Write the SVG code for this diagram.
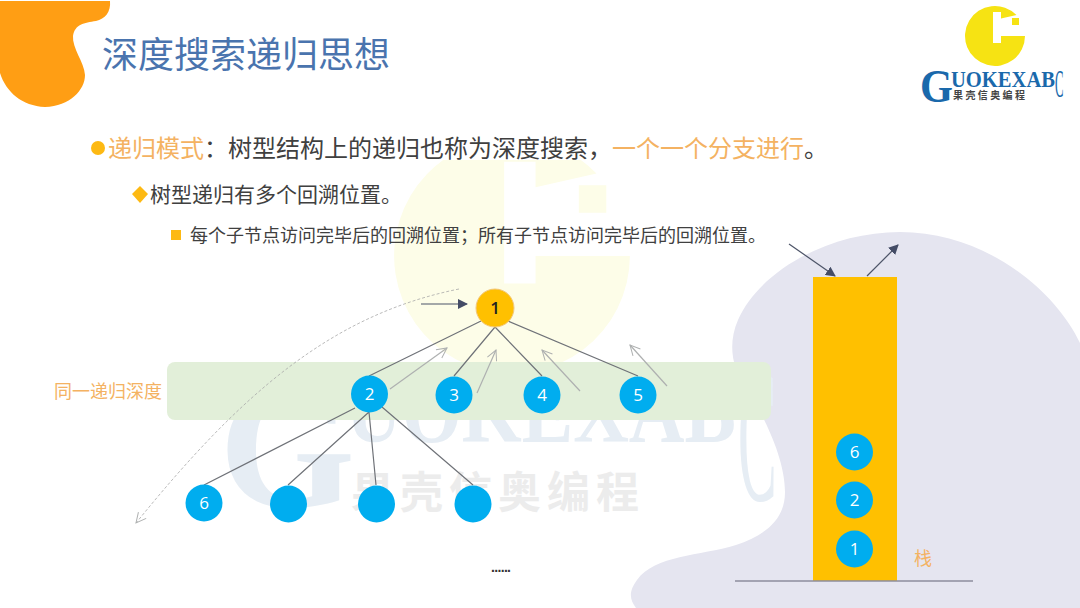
<svg xmlns="http://www.w3.org/2000/svg" width="1080" height="608" viewBox="0 0 1080 608">
<style>
text{font-family:"Noto Sans CJK SC","Noto Sans",sans-serif}
.n{font-family:"Open Sans","Noto Sans",sans-serif;font-size:17px;fill:#fff;text-anchor:middle}
.blue{fill:#00adef}
.o{fill:#f4b262}
.d{fill:#404040}
.edge{stroke:#6f7278;stroke-width:1.2;fill:none}
.back{stroke:#aeb0b0;stroke-width:1.2;fill:none;marker-end:url(#open)}
.dark{stroke:#4d5468;stroke-width:1.2;fill:none;marker-end:url(#solid)}
.wm{font-family:"Liberation Serif",serif;font-weight:700;fill:#e6edf4}
.lg{font-family:"Liberation Serif",serif;font-weight:700;fill:#1a69ab}
</style>
<defs>
<marker id="solid" viewBox="0 0 10 10" refX="9" refY="5" markerWidth="10" markerHeight="10" markerUnits="userSpaceOnUse" orient="auto"><path d="M0 0L10 5L0 10Z" fill="#444c66"/></marker>
<marker id="open" viewBox="0 0 12 12" refX="11" refY="6" markerWidth="12" markerHeight="12" markerUnits="userSpaceOnUse" orient="auto"><path d="M1 1L11 6L1 11" fill="none" stroke="#aeb0b0"/></marker>
<path id="cmark" d="M1016.500 15A30 30 0 1 0 1025 36H1001V43H993V12H1001V18.500ZM1012 18h7v7h-7z"/>
<clipPath id="wmclip"><rect x="380" y="160" width="270" height="220"/></clipPath>
</defs>
<rect width="1080" height="608" fill="#fff"/>
<path id="blob" fill="#e5e5f0" d="M1080 343C1055 290 985 232 900 232C830 232 760 270 738 320C727 345 733 370 745 385C760 410 785 455 785 492C785 520 765 535 736 545C700 556 655 555 637 580C628 592 630 600 636 608H1080Z"/>
<g id="watermark">
<g clip-path="url(#wmclip)"><use href="#cmark" transform="translate(512 256) scale(3.93) translate(-995 -36)" fill="#fdfde8"/></g>
<text class="wm" x="219" y="506" font-size="175">G</text>
<text class="wm" x="346" y="442" font-size="90" textLength="390" lengthAdjust="spacingAndGlyphs">UOKEXAB</text>
<text class="wm" style="font-weight:400" transform="translate(738 500) scale(.58 1.9)" font-size="100">C</text>
<text x="351" y="508" font-size="43" font-weight="700" fill="#ececec" letter-spacing="6">果壳信奥编程</text>
</g>
<path id="corner" fill="#ff9e14" d="M0 1H110C111 12 105 19 96 21C84 23 75 24 73 36C72 48 84 62 85 75C85 90 70 106 45 107C22 106 6 92 0 73Z"/>
<text x="102" y="68" font-size="36" fill="#4a74ae">深度搜索递归思想</text>
<g id="logo">
<use href="#cmark" fill="#f6e313"/>
<text class="lg" x="920" y="102" font-size="46" textLength="33" lengthAdjust="spacingAndGlyphs">G</text>
<text class="lg" x="951" y="87" font-size="24" textLength="104" lengthAdjust="spacingAndGlyphs">UOKEXAB</text>
<text class="lg" style="font-weight:400" transform="translate(1055 97) scale(.53 1.7)" font-size="24">C</text>
<text x="953" y="99" font-size="10" font-weight="700" fill="#444" letter-spacing="2.4">果壳信奥编程</text>
</g>
<g id="bullets">
<circle cx="98" cy="148" r="7" fill="#fdb913"/>
<text x="108" y="157" font-size="24"><tspan class="o">递归模式</tspan><tspan class="d">：树型结构上的递归也称为深度搜索，</tspan><tspan class="o">一个一个分支进行</tspan><tspan class="d">。</tspan></text>
<path d="M140 186L148 194L140 203L132 194Z" fill="#fdb913"/>
<text x="150" y="202" font-size="21" class="d">树型递归有多个回溯位置。</text>
<rect x="171" y="230" width="10" height="10" fill="#fdb913"/>
<text x="190" y="242" font-size="18" class="d">每个子节点访问完毕后的回溯位置；所有子节点访问完毕后的回溯位置。</text>
</g>
<rect id="band" x="167" y="362" width="604" height="58" rx="8" fill="#e2efd9"/>
<text x="54" y="398" font-size="18" class="o">同一递归深度</text>
<g id="connectors">
<path class="edge" d="M481 321L369 376M495 327L454 376M495 327L542 376M508 321L638 376"/>
<path class="edge" d="M355 408L204 485M369 412L288 485M369 412L376 485M382 407L473 485"/>
<path class="back" d="M390 389L447 348"/>
<path class="back" d="M477 393L496 350"/>
<path class="back" d="M580 391L542 350"/>
<path class="back" d="M667 386L630 345"/>
<path class="dark" d="M421 304L467 304"/>
<path class="dark" d="M789 244L835 276"/>
<path class="dark" d="M867 276L898 245"/>
<path d="M459 289C330 315 240 395 136 523" fill="none" stroke="#a8a8a8" stroke-width=".8" stroke-dasharray="3 2" marker-end="url(#open)"/>
</g>
<g id="stack">
<rect x="813" y="277" width="84" height="304" fill="#ffc000"/>
<path d="M735 581H973" stroke="#8d8d9e" stroke-width="1.5"/>
<text x="914" y="565" font-size="18" class="o">栈</text>
</g>
<g id="n1"><circle cx="495" cy="308" r="19" fill="#ffc000" stroke="#f2c77d"/><text x="495" y="314" class="n" style="fill:#222;font-weight:600">1</text></g>
<g id="n2"><circle cx="369.500" cy="394" r="18.500" class="blue"/><text x="369.500" y="400" class="n">2</text></g>
<g id="n3"><circle cx="454" cy="395" r="18.500" class="blue"/><text x="454" y="401" class="n">3</text></g>
<g id="n4"><circle cx="542" cy="395" r="18.500" class="blue"/><text x="542" y="401" class="n">4</text></g>
<g id="n5"><circle cx="638" cy="395" r="18.500" class="blue"/><text x="638" y="401" class="n">5</text></g>
<g id="n6"><circle cx="204" cy="503" r="18.500" class="blue"/><text x="204" y="509" class="n">6</text></g>
<g id="n7"><circle cx="288.500" cy="504" r="18.500" class="blue"/></g>
<g id="n8"><circle cx="376.500" cy="504" r="18.500" class="blue"/></g>
<g id="n9"><circle cx="473" cy="504" r="18.500" class="blue"/></g>
<g id="s6"><circle cx="854.500" cy="452" r="18.500" class="blue"/><text x="854.500" y="458" class="n">6</text></g>
<g id="s2"><circle cx="854.500" cy="500" r="18.500" class="blue"/><text x="854.500" y="506" class="n">2</text></g>
<g id="s1"><circle cx="854.500" cy="549" r="18.500" class="blue"/><text x="854.500" y="555" class="n">1</text></g>
<text x="491" y="572" font-size="14" font-weight="700" fill="#333" style="font-family:'Liberation Sans',sans-serif" textLength="20">......</text>
</svg>
